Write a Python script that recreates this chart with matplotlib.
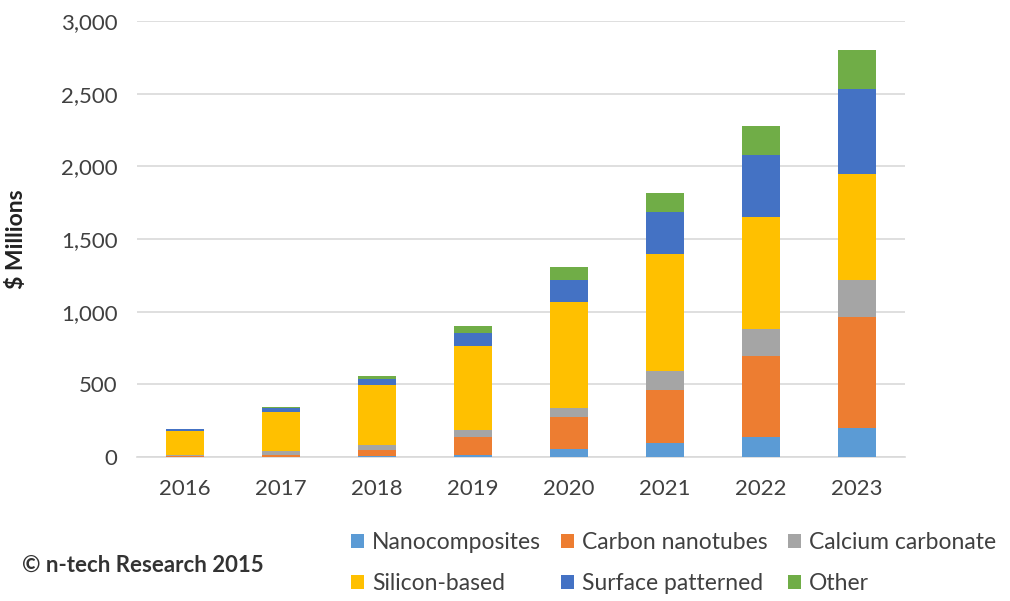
import matplotlib
matplotlib.use("Agg")
import matplotlib.pyplot as plt
from matplotlib.patches import Patch

years = ["2016", "2017", "2018", "2019", "2020", "2021", "2022", "2023"]
nanocomposites = [1, 2, 5, 15, 55, 95, 140, 200]
carbon_nanotubes = [5, 10, 45, 125, 220, 365, 555, 760]
calcium_carbonate = [10, 30, 30, 45, 60, 130, 185, 260]
silicon_based = [165, 270, 415, 580, 730, 805, 770, 730]
surface_patterned = [10, 25, 45, 85, 155, 290, 425, 580]
other = [3, 5, 15, 50, 85, 130, 205, 270]

series_names = ["Nanocomposites", "Carbon nanotubes", "Calcium carbonate",
                "Silicon-based", "Surface patterned", "Other"]
series_values = [nanocomposites, carbon_nanotubes, calcium_carbonate,
                 silicon_based, surface_patterned, other]
colors = ["#5B9BD5", "#ED7D31", "#A5A5A5", "#FFC000", "#4472C4", "#70AD47"]

plt.rcParams['font.family'] = ['Lato', 'DejaVu Sans']

fig = plt.figure(figsize=(10.10, 6.01), dpi=100)
ax = fig.add_axes([0.1356, 0.2396, 0.7604, 0.7254])

x = list(range(len(years)))
bottom = [0] * len(years)
for name, vals, c in zip(series_names, series_values, colors):
    ax.bar(x, vals, width=0.4, bottom=bottom, color=c, label=name, zorder=3)
    bottom = [b + v for b, v in zip(bottom, vals)]

ax.set_xlim(-0.5, 7.5)
ax.set_ylim(0, 3000)
ax.set_yticks(range(0, 3001, 500))
ax.set_yticklabels([f"{v:,}" for v in range(0, 3001, 500)])
ax.set_xticks(x)
ax.set_xticklabels(years)
ax.yaxis.grid(True, color="#D9D9D9", linewidth=1.2, zorder=0)
ax.set_axisbelow(True)
for s in ["top", "right", "left"]:
    ax.spines[s].set_visible(False)
ax.spines["bottom"].set_color("#D9D9D9")
ax.spines["bottom"].set_linewidth(1.2)
ax.tick_params(axis="both", length=0, labelsize=16, colors="#404040")
ax.tick_params(axis="y", pad=14)
ax.tick_params(axis="x", pad=16)
ax.set_ylabel("$ Millions", fontsize=16.5, fontweight="bold", color="#222222")
ax.yaxis.set_label_coords(-0.143, 0.5)

handles = [Patch(facecolor=c, edgecolor="none") for c in colors]
order = [0, 3, 1, 4, 2, 5]
fig.legend([handles[i] for i in order], [series_names[i] for i in order],
           ncol=3, loc="center", bbox_to_anchor=(0.667, 0.063),
           frameon=False, fontsize=16.5, handlelength=0.55, handleheight=0.55,
           handletextpad=0.35, columnspacing=0.9, labelspacing=0.85,
           labelcolor="#404040")

fig.text(0.022, 0.06, "© n-tech Research 2015", fontsize=16, fontweight="bold",
         color="#333333", va="center", ha="left")

fig.savefig("out.png", dpi=100)
